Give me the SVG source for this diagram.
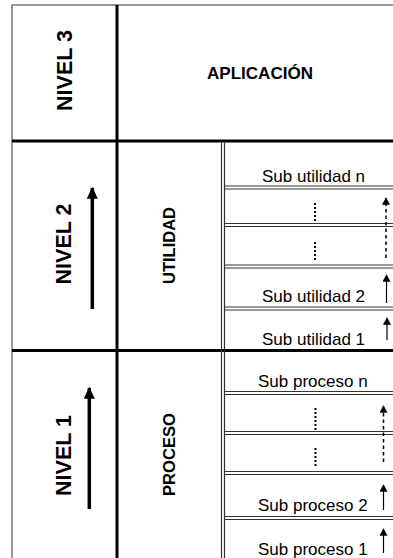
<svg xmlns="http://www.w3.org/2000/svg" width="393" height="558" viewBox="0 0 393 558">
<style>
.big{font-family:"Liberation Sans",Arial,sans-serif;font-weight:bold;fill:#000}
.sub{font-family:"Liberation Sans",Arial,sans-serif;font-size:17px;fill:#000}
.thick{stroke:#000;stroke-width:3;fill:none}
.outer{stroke:#777;stroke-width:1.5;fill:none}
.dbl{stroke:#333;stroke-width:1.2;fill:none}
.dots{stroke:#000;stroke-width:2;stroke-dasharray:2 2;fill:none}
.dash{stroke:#000;stroke-width:1.5;stroke-dasharray:3.5 3;fill:none}
.thin{stroke:#000;stroke-width:1.2;fill:none}
.bigarrow{stroke:#000;stroke-width:3.5;fill:none}
</style>
<defs>
<marker id="ah" viewBox="0 0 10 10" refX="9" refY="5" markerUnits="userSpaceOnUse" markerWidth="7.5" markerHeight="8" preserveAspectRatio="none" orient="auto">
<path d="M0,0 L10,5 L0,10 z" fill="#000"/>
</marker>
<marker id="ahb" viewBox="0 0 10 10" refX="9" refY="5" markerUnits="userSpaceOnUse" markerWidth="12" markerHeight="11" preserveAspectRatio="none" orient="auto">
<path d="M0,0 L10,5 L0,10 z" fill="#000"/>
</marker>
</defs>
<rect x="0" y="0" width="393" height="558" fill="#fff"/>

<g id="grid">
<path class="outer" d="M12,558 V5 H393"/>
<path class="thick" d="M117,5 V558"/>
<path class="thick" d="M12,141 H393 M12,350.5 H393"/>
<path class="dbl" d="M221.5,142.5 V558 M224.5,142.5 V558"/>
<path class="dbl" d="M225,186 H393 M225,189 H393 M225,223.5 H393 M225,226.5 H393 M225,265 H393 M225,268 H393 M225,307 H393 M225,310 H393"/>
<path class="dbl" d="M225,391.5 H393 M225,394.5 H393 M225,431.5 H393 M225,434.5 H393 M225,471.5 H393 M225,474.5 H393 M225,516.5 H393 M225,519.5 H393"/>
</g>

<g id="nivel3">
<text class="big" font-size="21.5" text-anchor="middle" transform="translate(72,70.5) rotate(-90)">NIVEL 3</text>
</g>
<g id="aplicacion">
<text class="big" font-size="17" x="260" y="79" text-anchor="middle" textLength="106" lengthAdjust="spacingAndGlyphs">APLICACIÓN</text>
</g>
<g id="nivel2">
<text class="big" font-size="21.5" text-anchor="middle" transform="translate(71,244) rotate(-90)">NIVEL 2</text>
</g>
<g id="utilidad">
<text class="big" font-size="17" text-anchor="middle" textLength="77" lengthAdjust="spacingAndGlyphs" transform="translate(175,245.5) rotate(-90)">UTILIDAD</text>
</g>
<g id="nivel1">
<text class="big" font-size="21.5" text-anchor="middle" transform="translate(71,455.5) rotate(-90)">NIVEL 1</text>
</g>
<g id="proceso">
<text class="big" font-size="17" text-anchor="middle" textLength="83" lengthAdjust="spacingAndGlyphs" transform="translate(175,454.5) rotate(-90)">PROCESO</text>
</g>

<g id="sub-utilidad-n"><text class="sub" x="262" y="182">Sub utilidad n</text></g>
<g id="sub-utilidad-dots1"><path class="dots" d="M315,203 V222"/></g>
<g id="sub-utilidad-dots2"><path class="dots" d="M315,242 V262"/></g>
<g id="sub-utilidad-2"><text class="sub" x="262" y="302">Sub utilidad 2</text></g>
<g id="sub-utilidad-1"><text class="sub" x="262" y="345">Sub utilidad 1</text></g>

<g id="sub-proceso-n"><text class="sub" x="258" y="387">Sub proceso n</text></g>
<g id="sub-proceso-dots1"><path class="dots" d="M315.5,408 V430"/></g>
<g id="sub-proceso-dots2"><path class="dots" d="M315.5,448 V468"/></g>
<g id="sub-proceso-2"><text class="sub" x="258" y="510.5">Sub proceso 2</text></g>
<g id="sub-proceso-1"><text class="sub" x="258" y="555">Sub proceso 1</text></g>

<g id="connectors">
<path class="bigarrow" d="M92.3,309 V188" marker-end="url(#ahb)"/>
<path class="bigarrow" d="M89.3,509 V388" marker-end="url(#ahb)"/>
<path class="dash" d="M386,258 V198" marker-end="url(#ah)"/>
<path class="thin" d="M386.5,303 V275" marker-end="url(#ah)"/>
<path class="thin" d="M387,340 V318" marker-end="url(#ah)"/>
<path class="dash" d="M383.5,462 V406" marker-end="url(#ah)"/>
<path class="thin" d="M383.5,510 V485" marker-end="url(#ah)"/>
<path class="thin" d="M383.5,553 V529" marker-end="url(#ah)"/>
</g>
</svg>
